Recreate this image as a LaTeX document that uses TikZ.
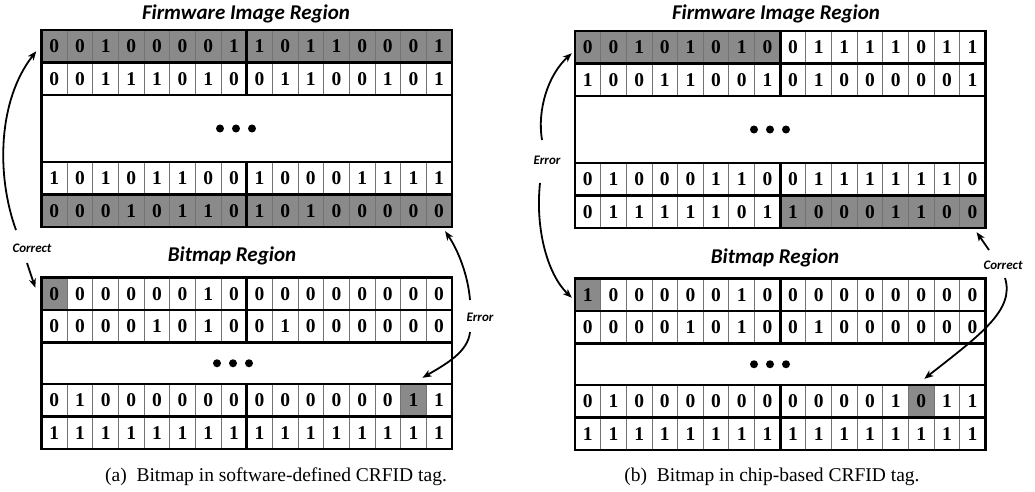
\documentclass[tikz,border=0pt]{standalone}
\usepackage{fontspec}
\newfontfamily\bitfont{Liberation Serif}
\newfontfamily\labfont{Carlito}
\usetikzlibrary{arrows.meta}

\definecolor{cellgray}{RGB}{138,138,138}
\definecolor{sepgray}{RGB}{115,115,115}

% cell width and row height (1 unit = 1pt)
\def\cw{25.65}
\def\rh{32.5}

\tikzset{
  bit/.style={inner sep=0pt, minimum width=\cw pt, minimum height=\rh pt,
    font=\bitfont\bfseries\fontsize{19.5}{19.5}\selectfont},
  thickline/.style={line width=2.6pt, draw=black},
  thinsep/.style={line width=0.9pt, draw=sepgray},
  lab/.style={font=\labfont\bfseries\itshape\fontsize{13}{13}\selectfont, inner sep=1pt},
  title/.style={font=\labfont\bfseries\itshape\fontsize{21}{21}\selectfont, inner sep=0pt},
  captext/.style={font=\bitfont\fontsize{19.5}{19.5}\selectfont, inner sep=0pt},
  arr/.style={line width=1.8pt, -{Stealth[length=9pt,width=7pt,inset=2.5pt]}}
}

% one row of 16 bits: name prefix, left x, top y, bits, first and last shaded cell
\newcommand\bitrow[6]{%
  \foreach \b [count=\i] in {#4}{%
    \pgfmathsetmacro\xl{#2+(\i-1)*\cw}%
    \ifnum\i<#5\relax\else\ifnum\i>#6\relax\else
      \fill[cellgray] (\xl,#3) rectangle ++(\cw,\rh);\fi\fi
    \node[bit] (#1-\i) at (\xl+\cw/2,#3+\rh/2) {\b};
  }
  \foreach \k in {1,...,15}{\draw[thinsep] (#2+\k*\cw,#3) -- ++(0,\rh);}
  \draw[thickline] (#2,#3) rectangle ++(16*\cw,\rh);
  \draw[thickline] (#2+8*\cw,#3) -- ++(0,\rh);
}

% elided rows: left x, top y, height, centre x of the dots
\newcommand\gapbox[4]{%
  \draw[thickline] (#1,#2) rectangle ++(16*\cw,#3);
  \foreach \d in {-16,0,16}{\fill (#4+\d,#2+#3/2) circle (4pt);}
}

\begin{document}
\begin{tikzpicture}[x=1pt,y=-1pt]
\fill[white] (0,0) rectangle (1035,492);
\useasboundingbox (0,0) rectangle (1035,492);

% ---------------- (a) software-defined tag ----------------
\node[title] (ta1) at (246,14) {Firmware Image Region};
\bitrow{LF1}{41.5}{30}{0,0,1,0,0,0,0,1,1,0,1,1,0,0,0,1}{1}{16}
\bitrow{LF2}{41.5}{62.5}{0,0,1,1,1,0,1,0,0,1,1,0,0,1,0,1}{0}{0}
\gapbox{41.5}{95}{67}{236}
\bitrow{LF4}{41.5}{162}{1,0,1,0,1,1,0,0,1,0,0,0,1,1,1,1}{0}{0}
\bitrow{LF5}{41.5}{194.5}{0,0,0,1,0,1,1,0,1,0,1,0,0,0,0,0}{1}{16}

\node[title] (ta2) at (232,256) {Bitmap Region};
\bitrow{LB1}{41.5}{277.5}{0,0,0,0,0,0,1,0,0,0,0,0,0,0,0,0}{1}{1}
\bitrow{LB2}{41.5}{310}{0,0,0,0,1,0,1,0,0,1,0,0,0,0,0,0}{0}{0}
\gapbox{41.5}{342.5}{41.5}{233}
\bitrow{LB4}{41.5}{384}{0,1,0,0,0,0,0,0,0,0,0,0,0,0,1,1}{15}{15}
\bitrow{LB5}{41.5}{416.5}{1,1,1,1,1,1,1,1,1,1,1,1,1,1,1,1}{0}{0}

\node[lab] (LC) at (32,248) {Correct};
\node[lab] (LE) at (480,317) {Error};
\draw[arr] ([shift={(-16,-18)}]LC.center) .. controls (-4,175) and (-2,100) .. ([shift={(-5,5)}]LF1-1.west);
\draw[arr] ([shift={(-5,15)}]LC.center) -- ([shift={(-6,-6)}]LB1-1.west);
\draw[arr] ([shift={(-10,-17)}]LE.center) .. controls (468,275) and (458,250) .. ([shift={(-7,4)}]LF5-16.south east);
\draw[arr] ([shift={(-10,15)}]LE.center) .. controls (468,352) and (446,364) .. ([shift={(-4,-6)}]LB4-15.north east);

\node[captext] (capa) at (276,477) {(a)\hspace{0.5em}Bitmap in software-defined CRFID tag.};

% ---------------- (b) chip-based tag ----------------
\node[title] (tb1) at (776,14) {Firmware Image Region};
\bitrow{RF1}{575}{31}{0,0,1,0,1,0,1,0,0,1,1,1,1,0,1,1}{1}{8}
\bitrow{RF2}{575}{63.5}{1,0,0,1,1,0,0,1,0,1,0,0,0,0,0,1}{0}{0}
\gapbox{575}{96}{67}{770}
\bitrow{RF4}{575}{163}{0,1,0,0,0,1,1,0,0,1,1,1,1,1,1,0}{0}{0}
\bitrow{RF5}{575}{195.5}{0,1,1,1,1,1,0,1,1,0,0,0,1,1,0,0}{9}{16}

\node[title] (tb2) at (775,258) {Bitmap Region};
\bitrow{RB1}{575}{278.5}{1,0,0,0,0,0,1,0,0,0,0,0,0,0,0,0}{1}{1}
\bitrow{RB2}{575}{311}{0,0,0,0,1,0,1,0,0,1,0,0,0,0,0,0}{0}{0}
\gapbox{575}{343.5}{41.5}{770}
\bitrow{RB4}{575}{385}{0,1,0,0,0,0,0,0,0,0,0,0,1,0,1,1}{14}{14}
\bitrow{RB5}{575}{417.5}{1,1,1,1,1,1,1,1,1,1,1,1,1,1,1,1}{0}{0}

\node[lab] (RE) at (547,160) {Error};
\node[lab] (RC) at (1003,265) {Correct};
\draw[arr] ([shift={(-5,-20)}]RE.center) .. controls (537,110) and (548,75) .. ([shift={(-3,6)}]RF1-1.west);
\draw[arr] ([shift={(-7,23)}]RE.center) .. controls (535,230) and (548,275) .. ([shift={(-3,3)}]RB1-1.west);
\draw[arr] ([shift={(-14,-15)}]RC.center) -- ([shift={(-9,4)}]RF5-16.south east);
\draw[arr] ([shift={(2,13)}]RC.center) .. controls (1015,310) and (980,335) .. ([shift={(3,-6)}]RB4-14.north);

\node[captext] (capb) at (772,477) {(b)\hspace{0.5em}Bitmap in chip-based CRFID tag.};
\end{tikzpicture}
\end{document}
